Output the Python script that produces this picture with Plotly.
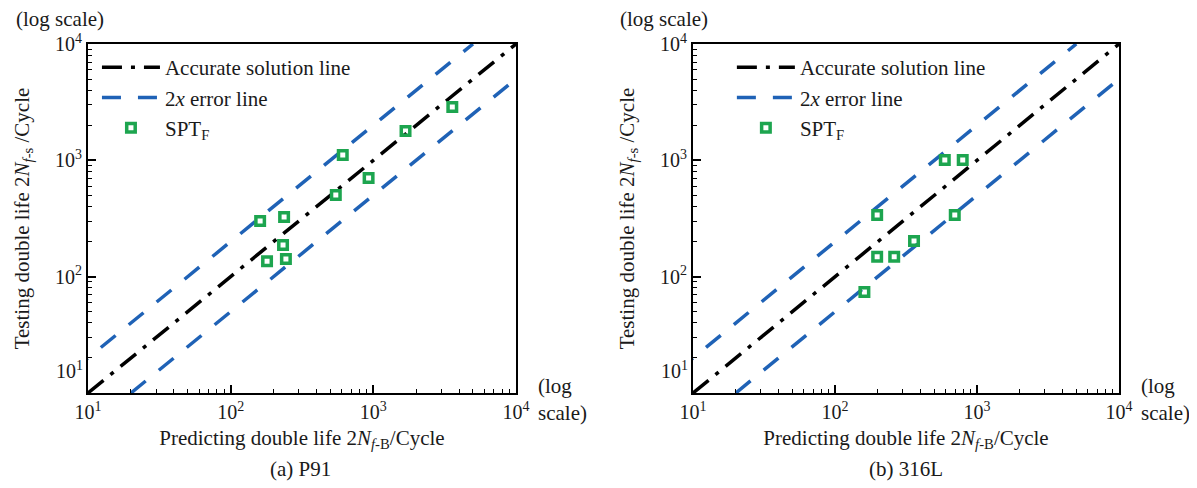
import plotly.graph_objects as go
from plotly.subplots import make_subplots

# ---- data ----
p91_pred = [161, 237, 233, 180, 244, 546, 611, 927, 1683, 3581]
p91_test = [301, 326, 187, 136, 142, 504, 1112, 705, 1786, 2872]

l316_pred = [593, 793, 198, 697, 360, 198, 261, 161]
l316_test = [1007, 1007, 339, 339, 203, 148, 148, 74]

acc_x = [10, 10000]
acc_y = [10, 10000]
upper_x = [5, 5000]
upper_y = [10, 10000]
lower_x = [20, 20000]
lower_y = [10, 10000]

tick_vals = [10, 100, 1000, 10000]
x_tick_text = ["10<sup>1</sup>", "10<sup>2</sup>", "10<sup>3</sup>", "10<sup>4</sup>"]
y_tick_text = ["", "10<sup>2</sup>", "10<sup>3</sup>", "10<sup>4</sup>"]

FONT = "Liberation Serif"
BLUE = "#1f62b6"
GREEN = "#1da54f"
TXT = "#1a1a1a"

OFF = 8  # page body margin
W, H = 1189, 480
ML, MR, MT, MB = 75, 78, 36, 95
PW = W - ML - MR
PH = H - MT - MB

def px2x(px):
    return (px - OFF - ML) / PW

def py2y(py):
    return (H - MB - (py - OFF)) / PH

fig = make_subplots(rows=1, cols=2, horizontal_spacing=0.0)

panels = [(p91_pred, p91_test, 1, "legend"), (l316_pred, l316_test, 2, "legend2")]
for xs, ys, col, leg in panels:
    fig.add_trace(go.Scatter(x=acc_x, y=acc_y, mode="lines", name="Accurate solution line",
                             line=dict(color="black", width=3.5, dash="20px,9px,4px,9px"),
                             legend=leg), row=1, col=col)
    fig.add_trace(go.Scatter(x=upper_x, y=upper_y, mode="lines", name="2<i>x</i> error line",
                             line=dict(color=BLUE, width=3.5, dash="19px,17px"),
                             legend=leg), row=1, col=col)
    fig.add_trace(go.Scatter(x=lower_x, y=lower_y, mode="lines", name="2<i>x</i> error line",
                             line=dict(color=BLUE, width=3.5, dash="19px,17px"),
                             showlegend=False, legend=leg), row=1, col=col)
    fig.add_trace(go.Scatter(x=xs, y=ys, mode="markers", name="SPT<sub>F</sub>",
                             marker=dict(symbol="square-open", size=8.5, color=GREEN,
                                         line=dict(color=GREEN, width=3.5)),
                             legend=leg), row=1, col=col)

left_dom = [0, (505 - ML) / PW]
right_dom = [(683 - ML) / PW, 1]

axis_common = dict(
    type="log", range=[1, 4], tickvals=tick_vals,
    ticks="inside", ticklen=8, tickwidth=1.5, tickcolor="black",
    minor=dict(ticks="inside", ticklen=4, tickwidth=1, tickcolor="black", dtick="D1", showgrid=False),
    showline=True, linecolor="black", linewidth=2, mirror=True,
    showgrid=False, zeroline=False,
    tickfont=dict(family=FONT, size=20, color=TXT),
)

xtitle = "Predicting double life 2<i>N</i><sub><i>f</i>-B</sub>/Cycle"
ytitle = "Testing double life 2<i>N</i><sub><i>f</i>-s</sub> /Cycle"

fig.update_xaxes(**axis_common, ticktext=x_tick_text,
                 title=dict(text=xtitle, font=dict(family=FONT, size=21, color=TXT), standoff=8))
fig.update_yaxes(**axis_common, ticktext=y_tick_text,
                 title=dict(text=ytitle, font=dict(family=FONT, size=21, color=TXT), standoff=20))
fig.update_layout(xaxis=dict(domain=left_dom), xaxis2=dict(domain=right_dom))

legend_common = dict(font=dict(family=FONT, size=21, color=TXT), bgcolor="rgba(0,0,0,0)",
                     yanchor="top", xanchor="left", tracegroupgap=0, itemwidth=58)

annotations = []
def ann(text, x, y, xanchor="center", yanchor="middle", size=21):
    annotations.append(dict(text=text, x=x, y=y, xref="paper", yref="paper", showarrow=False,
                            xanchor=xanchor, yanchor=yanchor, align="left",
                            font=dict(family=FONT, size=size, color=TXT)))

ann("(log scale)", px2x(55), py2y(19))
ann("(log scale)", px2x(662), py2y(19))
ann("(log<br>scale)", px2x(533), py2y(399), xanchor="left")
ann("(log<br>scale)", px2x(1139), py2y(399), xanchor="left")
ann("10<sup>1</sup>", px2x(80), py2y(370), xanchor="right", size=20)
ann("10<sup>1</sup>", px2x(688), py2y(370), xanchor="right", size=20)
ann("(a) P91", px2x(297), py2y(469))
ann("(b) 316L", px2x(905), py2y(469))

fig.update_layout(
    width=W, height=H,
    margin=dict(l=ML, r=MR, t=MT, b=MB),
    paper_bgcolor="white", plot_bgcolor="white",
    legend=dict(x=px2x(92), y=py2y(47), **legend_common),
    legend2=dict(x=px2x(730), y=py2y(47), **legend_common),
    annotations=annotations,
    font=dict(family=FONT),
)

fig.write_html("out.html")
